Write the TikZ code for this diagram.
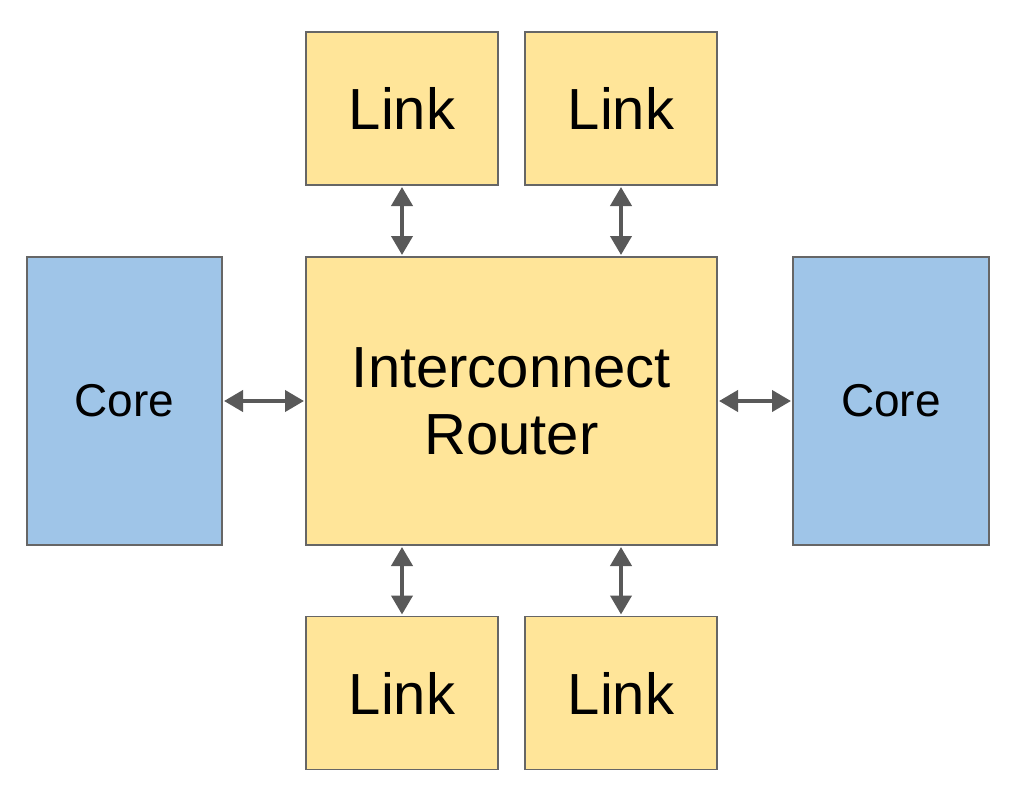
\documentclass[tikz,border=0pt]{standalone}
\usepackage{fontspec}
\setmainfont{Liberation Sans}
\usetikzlibrary{arrows.meta}
\definecolor{boxyellow}{HTML}{FFE599}
\definecolor{boxblue}{HTML}{9FC5E8}
\definecolor{boxborder}{HTML}{666666}
\definecolor{arrowgray}{HTML}{595959}
\begin{document}
\begin{tikzpicture}[x=1pt,y=-1pt,
  blk/.style={draw=boxborder,line width=1.5pt,inner sep=0pt,outer sep=0pt},
  linkbox/.style={blk,fill=boxyellow,minimum width=192pt,minimum height=153pt,font=\fontsize{58}{67}\selectfont},
  corebox/.style={blk,fill=boxblue,minimum width=195pt,minimum height=288pt,font=\fontsize{46}{54}\selectfont},
  routerbox/.style={blk,fill=boxyellow,minimum width=411pt,minimum height=288pt,font=\fontsize{58}{67}\selectfont,align=center},
  conn/.style={draw=arrowgray,line width=4pt,{Triangle[width=21pt,length=19pt]}-{Triangle[width=21pt,length=19pt]},shorten >=2pt,shorten <=2pt}]
\useasboundingbox (0,0) rectangle (1014,800);
\node[linkbox] (lt1) at (402,108.5) {Link};
\node[linkbox] (lt2) at (621,108.5) {Link};
\node[linkbox] (lb1) at (402,693) {Link};
\node[linkbox] (lb2) at (621,693) {Link};
\node[routerbox] (r) at (511.5,401) {Interconnect\\Router};
\node[corebox] (cl) at (124.5,401) {Core};
\node[corebox,minimum width=196pt] (cr) at (891,401) {Core};
\draw[conn] (lt1.south) -- (lt1.south |- r.north);
\draw[conn] (lt2.south) -- (lt2.south |- r.north);
\draw[conn] (lb1.north) -- (lb1.north |- r.south);
\draw[conn] (lb2.north) -- (lb2.north |- r.south);
\draw[conn] (cl.east) -- (r.west);
\draw[conn] (r.east) -- (cr.west);
\end{tikzpicture}
\end{document}
